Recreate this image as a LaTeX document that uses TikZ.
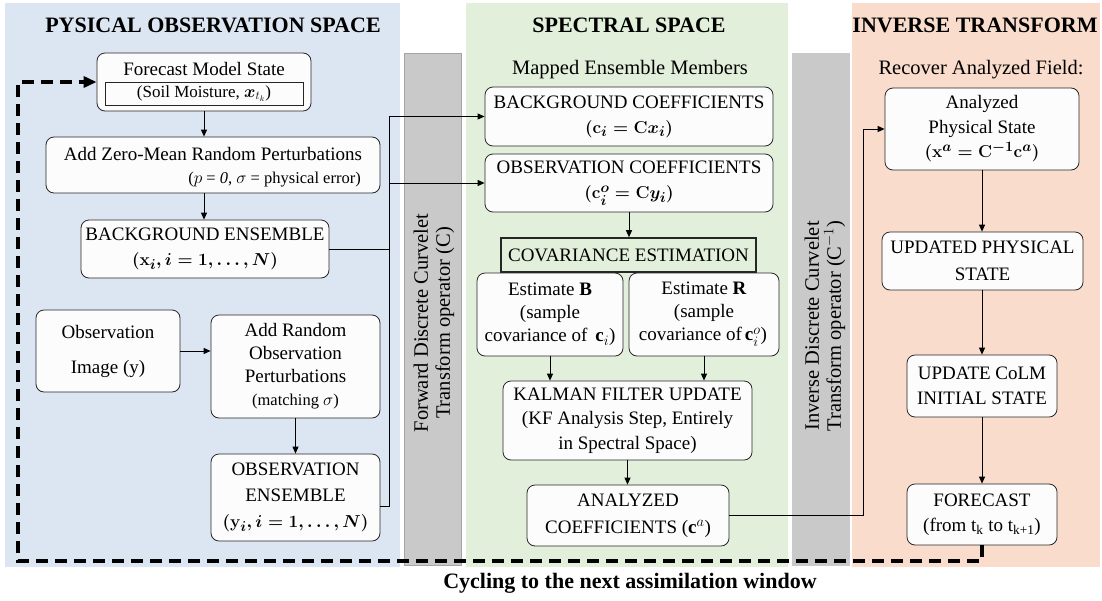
\documentclass[tikz,border=0pt]{standalone}
\usepackage{fontspec}
\setmainfont{Liberation Serif}
\usepackage{amsmath,bm}
\usetikzlibrary{arrows.meta}
\definecolor{blueBG}{HTML}{DCE6F2}
\definecolor{greenBG}{HTML}{E2EFDA}
\definecolor{orangeBG}{HTML}{F9DCCB}
\definecolor{greyBar}{HTML}{C9C9C9}
\definecolor{greyBorder}{HTML}{A5A5A5}
\definecolor{boxfill}{HTML}{FCFCFC}
\newcommand\fsz[2]{\fontsize{#1}{#2}\selectfont}
\begin{document}
\begin{tikzpicture}[x=1pt,y=-1pt,
  box/.style={draw=black!85, line width=0.8pt, fill=boxfill, rounded corners=8pt, align=center, inner sep=0pt, font=\fsz{19}{24}},
  txt/.style={align=center, inner sep=0pt, font=\fsz{19}{24}},
  ttl/.style={inner sep=0pt, font=\fsz{22}{26}\bfseries},
  bartxt/.style={align=center, inner sep=0pt, rotate=90, font=\fsz{20.5}{22}},
  arr/.style={line width=1pt, -{Triangle[length=7pt,width=6pt]}},
  cyc/.style={line width=3.2pt, dash pattern=on 12pt off 7pt, -{Triangle[length=13pt,width=11pt]}}]
\useasboundingbox (0,0) rectangle (1102,600);
% panels
\fill[blueBG] (5,3) rectangle (400,567);
\fill[greenBG] (466,3) rectangle (788,567);
\fill[orangeBG] (852,3) rectangle (1100,567);
\filldraw[fill=greyBar, draw=greyBorder, line width=0.8pt] (404.5,53) rectangle (461,565);
\filldraw[fill=greyBar, draw=greyBar, line width=0.8pt] (792,53) rectangle (849,565);
% titles
\node[ttl] (t1) at (213,25) {PYSICAL OBSERVATION SPACE};
\node[ttl] (t2) at (629,25) {SPECTRAL SPACE};
\node[ttl] (t3) at (975,25) {INVERSE TRANSFORM};
\node[txt, font=\fsz{20.5}{24}] (m1) at (630,70) {Mapped Ensemble Members};
\node[txt, font=\fsz{20.5}{24}] (m2) at (981,70) {Recover Analyzed Field:};
\node[bartxt] (b1) at (434,323) {Forward Discrete Curvelet\\Transform operator (C)};
\node[bartxt] (b2) at (825,326) {Inverse Discrete Curvelet\\Transform operator (C$^{-1}$)};
% left column
\node[box, minimum width=214pt, minimum height=58pt] (fms) at (204,82) {};
\node[txt] (fmst) at (204,69) {Forecast Model State};
\node[draw=black!85, line width=0.8pt, inner sep=0pt, minimum width=198pt, minimum height=23pt, font=\fsz{17}{20}] (fmsi) at (204,93.5) {(Soil Moisture, $\bm{x}_{t_k}$)};
\node[box, minimum width=334pt, minimum height=56pt] (pert) at (213,165) {};
\node[txt] (pertt) at (213,154) {Add Zero-Mean Random Perturbations};
\node[txt, anchor=east, font=\fsz{16.5}{20}] (perts) at (361,180) {($p$ = \textit{0}, $\sigma$ = physical error)};
\node[box, minimum width=248pt, minimum height=58pt] (bge) at (205,249) {BACKGROUND ENSEMBLE\\[1pt] {\boldmath$(\mathbf{x}_i, i = 1,\ldots,N)$}};
\node[box, minimum width=144pt, minimum height=82pt, font=\fsz{19}{35}] (obsimg) at (108,351) {Observation\\Image (y)};
\node[box, minimum width=169pt, minimum height=103pt, font=\fsz{19}{23}] (addobs) at (295.5,366.5) {Add Random\\Observation\\Perturbations\\{\fsz{16.5}{23}(matching $\sigma$)}};
\node[box, minimum width=169pt, minimum height=87pt, font=\fsz{19}{26}] (obsens) at (295.5,497.5) {OBSERVATION\\ENSEMBLE\\{\boldmath$(\mathbf{y}_i, i = 1,\ldots,N)$}};
% middle column
\node[box, minimum width=288pt, minimum height=59pt, font=\fsz{19}{25}] (bgc) at (629,116.5) {BACKGROUND COEFFICIENTS\\{\boldmath$(\mathbf{c}_i = \mathbf{C}\bm{x}_i)$}};
\node[box, minimum width=288pt, minimum height=58pt, font=\fsz{19}{25}] (obc) at (629,183) {OBSERVATION COEFFICIENTS\\{\boldmath$(\mathbf{c}_i^o = \mathbf{C}\bm{y}_i)$}};
\node[draw=black!85, line width=1.6pt, fill=greenBG, inner sep=0pt, minimum width=255pt, minimum height=34pt, font=\fsz{19}{24}] (cov) at (628.5,255) {COVARIANCE ESTIMATION};
\node[box, minimum width=146pt, minimum height=83pt, font=\fsz{19}{23}] (estB) at (550,314.5) {Estimate \textbf{B}\\(sample\\covariance of \,$\mathbf{c}_i$)};
\node[box, minimum width=150pt, minimum height=83pt, font=\fsz{19}{23}] (estR) at (704,314.5) {Estimate \textbf{R}\\(sample\\covariance of\,$\mathbf{c}^{o}_{i}$)\kern2pt};
\node[box, minimum width=249pt, minimum height=79pt, font=\fsz{19}{24.5}] (kf) at (627.5,420.5) {KALMAN FILTER UPDATE\\(KF Analysis Step, Entirely\\in Spectral Space)};
\node[box, minimum width=202pt, minimum height=61pt, font=\fsz{19}{27}] (anc) at (628,515.5) {ANALYZED\\COEFFICIENTS ($\mathbf{c}^a$)};
% right column
\node[box, minimum width=194pt, minimum height=82pt, font=\fsz{19}{24.5}] (aps) at (982,129) {Analyzed\\Physical State\\{\boldmath$(\mathbf{x}^a = \mathbf{C}^{-1}\mathbf{c}^a)$}};
\node[box, minimum width=201pt, minimum height=58pt, font=\fsz{19}{27}] (ups) at (982.5,261) {UPDATED PHYSICAL\\STATE};
\node[box, minimum width=150pt, minimum height=62pt, font=\fsz{19}{25}] (colm) at (982,386) {UPDATE CoLM\\INITIAL STATE};
\node[box, minimum width=150pt, minimum height=61pt, font=\fsz{19}{25}] (fc) at (982,514.5) {FORECAST\\(from t$_\text{k}$ to t$_\text{k+1}$)};
% bottom label
\node[ttl] (cyc) at (630,583) {Cycling to the next assimilation window};
% connectors
\coordinate (bus) at (389,300);
\coordinate (bus2) at (863,300);
\coordinate (lp) at (18,561);
\coordinate (tp) at (18,82);
\draw[arr] (fms.south) -- (fms.south |- pert.north);
\draw[arr] (fms.south |- pert.south) -- (fms.south |- bge.north);
\draw[arr] (obsimg.east) -- (obsimg.east -| addobs.west);
\draw[arr] (addobs.south) -- (obsens.north);
\draw[arr] (bge.east) -- (bge.east -| bus) |- (bgc.west);
\draw[arr] ([yshift=-9pt]obsens.east) -- ([yshift=-9pt]obsens.east -| bus) |- (obc.west);
\draw[arr] (obc.south) -- (obc.south |- cov.north);
\draw[arr] (estB.south) -- (estB.south |- kf.north);
\draw[arr] (estR.south) -- (estR.south |- kf.north);
\draw[arr] (kf.south) -- (kf.south |- anc.north);
\draw[arr] (anc.east) -- (anc.east -| bus2) |- (aps.west);
\draw[arr] (aps.south) -- (aps.south |- ups.north);
\draw[arr] (aps.south |- ups.south) -- (aps.south |- colm.north);
\draw[arr] (colm.south) -- (fc.north);
\draw[cyc] (fc.south) -- (fc.south |- lp) -- (lp) -- (tp) -- (fms.west);
\end{tikzpicture}
\end{document}
